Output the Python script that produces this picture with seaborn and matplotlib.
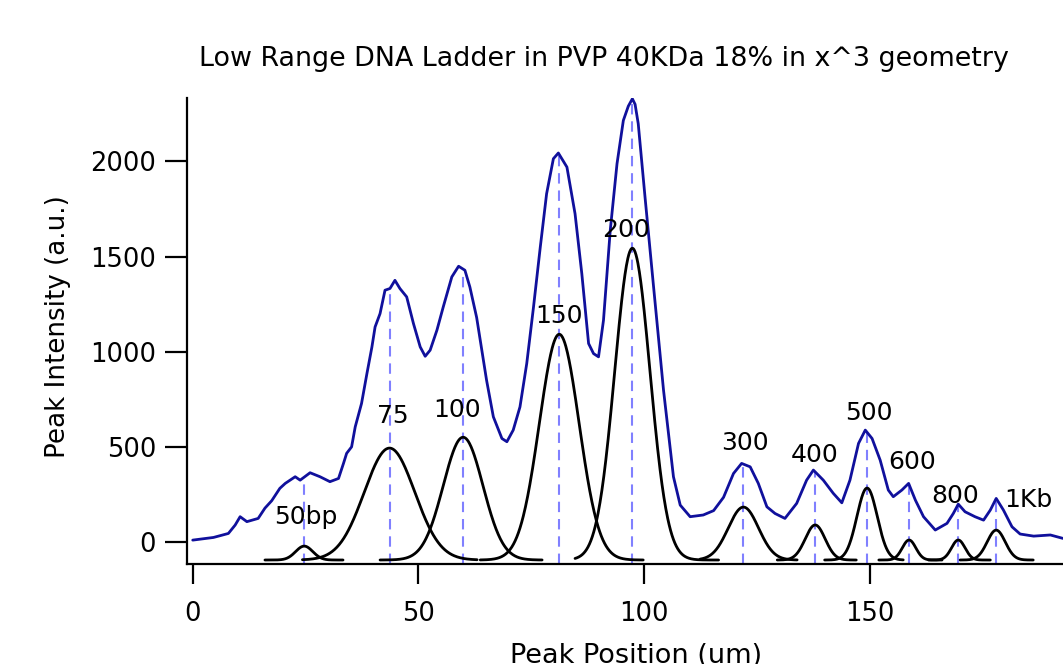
import numpy as np
import pandas as pd
import matplotlib
matplotlib.use("Agg")
import matplotlib.pyplot as plt
import seaborn as sns

trace_x = [0.0, 4.6, 7.9, 9.4, 10.5, 12.0, 14.5, 16.0, 17.5, 19.3, 20.5, 22.7, 23.8, 26.0,
           28.2, 30.4, 32.3, 33.4, 34.1, 35.2, 36.0, 37.4, 38.6, 39.7, 40.4, 41.5, 42.6,
           43.7, 44.8, 45.9, 47.4, 48.9, 50.4, 51.5, 52.6, 54.1, 55.5, 57.4, 58.9, 60.3,
           61.4, 62.9, 63.7, 65.1, 66.6, 68.5, 69.6, 71.0, 72.5, 74.0, 75.5, 77.0, 78.4,
           79.9, 81.0, 82.9, 84.7, 86.2, 87.7, 88.8, 89.9, 91.0, 92.5, 94.0, 95.4, 96.5,
           97.4, 98.0, 98.7, 100.2, 102.1, 104.3, 106.5, 108.0, 110.2, 113.1, 115.4,
           117.6, 119.8, 121.6, 123.5, 125.3, 127.2, 129.0, 131.2, 133.8, 136.0, 137.5,
           139.7, 141.9, 143.8, 145.6, 147.5, 149.0, 150.5, 152.3, 154.1, 155.2, 157.1,
           158.6, 160.1, 161.9, 164.5, 167.1, 168.5, 169.6, 171.1, 173.3, 175.2, 176.7,
           178.0, 179.6, 181.5, 183.3, 186.3, 190.0, 192.8]
trace_y = [10, 24, 45, 89, 133, 107, 124, 178, 217, 282, 308, 343, 325, 364,
           343, 317, 334, 413, 466, 500, 605, 728, 886, 1025, 1130, 1200, 1323,
           1332, 1375, 1332, 1288, 1148, 1025, 976, 1008, 1113, 1235, 1393, 1449, 1428,
           1340, 1180, 1060, 850, 658, 544, 527, 588, 710, 938, 1235, 1550, 1830,
           2014, 2044, 1970, 1725, 1410, 1043, 990, 973, 1165, 1638, 1988, 2215, 2290,
           2329, 2300, 2198, 1813, 1340, 798, 343, 194, 133, 142, 165,
           235, 360, 413, 395, 308, 185, 150, 124, 203, 325, 378,
           325, 256, 206, 325, 518, 588, 544, 430, 273, 238, 273,
           308, 220, 133, 63, 98, 150, 199, 159, 133, 115, 168,
           229, 168, 80, 42, 31, 37, 19]

# ---- fitted peak components ----
peak_labels = ["50bp", "75", "100", "150", "200", "300", "400", "500", "600", "800", "1Kb"]
peak_center = [24.7, 43.6, 59.9, 81.2, 97.4, 122.0, 137.9, 149.4, 158.7, 169.6, 178.0]
peak_amp = [73, 588, 645, 1186, 1638, 278, 184, 378, 105, 105, 157]
peak_sigma = [1.9, 5.6, 4.4, 4.4, 3.9, 3.35, 2.2, 2.25, 1.5, 1.5, 2.0]
peak_lo = [16.0, 24.3, 41.5, 63.7, 84.7, 112.4, 129.5, 140.0, 152.0, 163.0, 170.0]
peak_hi = [33.3, 63.0, 77.4, 99.8, 116.5, 133.9, 147.0, 157.4, 166.0, 176.7, 186.2]
fit_base = -94.5

# label anchor (baseline) positions in data units
label_x = [25.1, 44.4, 58.6, 81.2, 96.0, 122.4, 137.7, 149.8, 159.4, 168.9, 185.1]
label_y = [95, 625, 656, 1150, 1601, 483, 420, 640, 383, 205, 184]

sns.set_style("ticks")
plt.rcParams['font.family'] = ['DejaVu Sans']
plt.rcParams['text.color'] = 'black'
plt.rcParams['axes.labelcolor'] = 'black'
plt.rcParams['xtick.color'] = 'black'
plt.rcParams['ytick.color'] = 'black'

W, H = 1063, 664
fig = plt.figure(figsize=(W / 100, H / 100), dpi=100)
left_px, bottom_px, top_px = 187.3, 564, 98
ax = fig.add_axes([left_px / W, (H - bottom_px) / H, 1 - left_px / W, (bottom_px - top_px) / H])

ymin, ymax = -115.5, 2333
ax.set_xlim(-1.2, 192.8)
ax.set_ylim(ymin, ymax)

# gaussian components
rows = []
for i, (c, a, s, lo, hi) in enumerate(zip(peak_center, peak_amp, peak_sigma, peak_lo, peak_hi)):
    xs = np.linspace(lo, hi, 300)
    ys = fit_base + a * np.exp(-(xs - c) ** 2 / (2 * s ** 2))
    rows.append(pd.DataFrame({"x": xs, "y": ys, "comp": i}))
fit_df = pd.concat(rows, ignore_index=True)

# dashed markers
tops = np.interp(peak_center, trace_x, trace_y)
ax.vlines(peak_center, ymin, tops, colors="#8080ff", linestyles=(0, (5, 3.3)),
          linewidth=1.5, zorder=1.5)

sns.lineplot(data=fit_df, x="x", y="y", units="comp", estimator=None, sort=False,
             color="black", linewidth=2.0, ax=ax, zorder=2)
sns.lineplot(x=trace_x, y=trace_y, sort=False, color="#10109c", linewidth=2.0,
             ax=ax, zorder=3)

for t, lx, ly in zip(peak_labels, label_x, label_y):
    ax.text(lx, ly, t, ha="center", va="baseline", fontsize=18, color="black", zorder=4)

ax.set_xticks([0, 50, 100, 150])
ax.set_yticks([0, 500, 1000, 1500, 2000])
ax.tick_params(axis="x", length=14.5, width=1.6, pad=12, labelsize=18.5, direction="out")
ax.tick_params(axis="y", length=15.5, width=1.6, pad=7, labelsize=18.5, direction="out")
for side in ["top", "right"]:
    ax.spines[side].set_visible(False)
for side in ["left", "bottom"]:
    ax.spines[side].set_linewidth(1.6)
    ax.spines[side].set_color("black")

ax.set_xlabel("Peak Position (um)", fontsize=19.5)
ax.xaxis.set_label_coords((636 - left_px) / (W - left_px), (bottom_px - 663) / (bottom_px - top_px))
ax.xaxis.label.set_verticalalignment("baseline")
ax.set_ylabel("Peak Intensity (a.u.)", fontsize=18.8)
ax.yaxis.set_label_coords((58 - left_px) / (W - left_px), (bottom_px - 327) / (bottom_px - top_px))
ax.yaxis.label.set_verticalalignment("center")

fig.text(604 / W, 1 - 66 / H, "Low Range DNA Ladder in PVP 40KDa 18% in x^3 geometry",
         ha="center", va="baseline", fontsize=19.4)

fig.savefig("out.png", dpi=100)
